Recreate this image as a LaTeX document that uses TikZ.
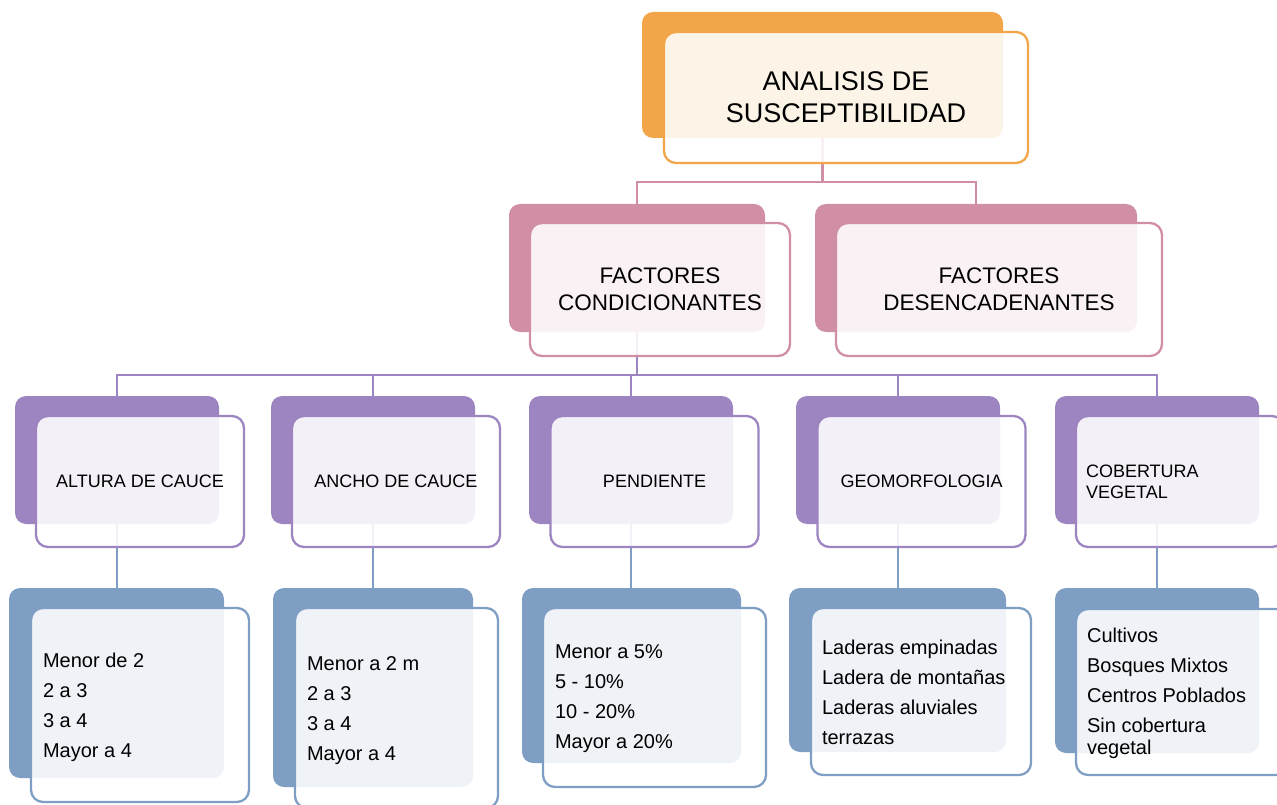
\documentclass[tikz,border=0pt]{standalone}
\usepackage{fontspec}
\setmainfont{Liberation Sans}
\definecolor{cOr}{HTML}{F3A649}
\definecolor{cPk}{HTML}{D18FA5}
\definecolor{cPu}{HTML}{9D85C1}
\definecolor{cBl}{HTML}{7F9EC3}
\begin{document}
\begin{tikzpicture}[x=1pt,y=-1pt,
  bk/.style={fill=#1, draw=none, rounded corners=11pt, inner sep=0pt},
  fr/.style={draw=#1, line width=2.3pt, fill=white, fill opacity=0.88, text opacity=1, rounded corners=12pt, inner sep=0pt},
  conn/.style={draw=#1, line width=2.6pt},
  tA/.style={font=\fontsize{27}{32}\selectfont, align=center},
  tB/.style={font=\fontsize{22.5}{27}\selectfont, align=center},
  tC/.style={font=\fontsize{18}{21}\selectfont, align=center},
  lst/.style={font=\fontsize{20}{22}\selectfont, align=left, anchor=west, inner sep=0pt},
  w3/.style={minimum width=204pt, minimum height=128pt},
  f3/.style={minimum width=208pt, minimum height=131pt}]
\useasboundingbox (0,0) rectangle (1277,805);
% back boxes
\node[bk=cOr, minimum width=361pt, minimum height=126pt] (topb) at (822.5,75) {};
\node[bk=cPk, minimum width=256pt, minimum height=128pt] (fcb) at (637,268) {};
\node[bk=cPk, minimum width=322pt, minimum height=128pt] (fdb) at (976,268) {};
\node[bk=cPu, w3] (l3ab) at (117,460) {};
\node[bk=cPu, w3] (l3bb) at (373,460) {};
\node[bk=cPu, w3] (l3cb) at (631,460) {};
\node[bk=cPu, w3] (l3db) at (898,460) {};
\node[bk=cPu, w3] (l3eb) at (1157,460) {};
\node[bk=cBl, minimum width=215pt, minimum height=190pt] (l4ab) at (116.5,683) {};
\node[bk=cBl, minimum width=200pt, minimum height=199pt] (l4bb) at (373,687.5) {};
\node[bk=cBl, minimum width=219pt, minimum height=175pt] (l4cb) at (631.5,675.5) {};
\node[bk=cBl, minimum width=217pt, minimum height=164pt] (l4db) at (897.5,670) {};
\node[bk=cBl, minimum width=204pt, minimum height=165pt] (l4eb) at (1157,670.5) {};
% connectors
\coordinate (j1) at (822.5,182);
\draw[conn=cPk] (topb.south) -- (j1) -| (fcb.north);
\draw[conn=cPk] (j1) -| (fdb.north);
\coordinate (j2) at (637,375);
\draw[conn=cPu] (fcb.south) -- (j2);
\draw[conn=cPu] (j2) -| (l3ab.north);
\draw[conn=cPu] (j2) -| (l3bb.north);
\draw[conn=cPu] (j2) -| (l3cb.north);
\draw[conn=cPu] (j2) -| (l3db.north);
\draw[conn=cPu] (j2) -| (l3eb.north);
\draw[conn=cBl] (l3ab.south) -- (l3ab.south |- l4ab.north);
\draw[conn=cBl] (l3bb.south) -- (l3bb.south |- l4bb.north);
\draw[conn=cBl] (l3cb.south) -- (l3cb.south |- l4cb.north);
\draw[conn=cBl] (l3db.south) -- (l3db.south |- l4db.north);
\draw[conn=cBl] (l3eb.south) -- (l3eb.south |- l4eb.north);
% front boxes
\node[fr=cOr, tA, minimum width=364pt, minimum height=131pt] (top) at (846,97.5) {ANALISIS DE\\SUSCEPTIBILIDAD};
\node[fr=cPk, tB, minimum width=260pt, minimum height=133pt] (fc) at (660,289.5) {FACTORES\\CONDICIONANTES};
\node[fr=cPk, tB, minimum width=326pt, minimum height=133pt] (fd) at (999,289.5) {FACTORES\\DESENCADENANTES};
\node[fr=cPu, tC, f3] (l3a) at (140,481.5) {ALTURA DE CAUCE};
\node[fr=cPu, tC, f3] (l3b) at (396,481.5) {ANCHO DE CAUCE};
\node[fr=cPu, tC, f3] (l3c) at (654.5,481.5) {PENDIENTE};
\node[fr=cPu, tC, f3] (l3d) at (921.5,481.5) {GEOMORFOLOGIA};
\node[fr=cPu, f3] (l3e) at (1180,481.5) {};
\node[tC, align=left, anchor=west, inner sep=0pt] (l3et) at ([xshift=11pt]l3e.west) {COBERTURA\\VEGETAL};
\node[fr=cBl, minimum width=218pt, minimum height=194pt] (l4a) at (140,705) {};
\node[fr=cBl, minimum width=203pt, minimum height=200pt] (l4b) at (396.5,708) {};
\node[fr=cBl, minimum width=223pt, minimum height=179pt] (l4c) at (654.5,697.5) {};
\node[fr=cBl, minimum width=220pt, minimum height=167pt] (l4d) at (921,691.5) {};
\node[fr=cBl, minimum width=214pt, minimum height=166pt] (l4e) at (1183,692) {};
% list texts
\node[lst] (l4at) at ([xshift=13pt,yshift=-2pt]l4a.west) {Menor de 2\\[8pt]2 a 3\\[8pt]3 a 4\\[8pt]Mayor a 4};
\node[lst] (l4bt) at ([xshift=13pt,yshift=-3pt]l4b.west) {Menor a 2 m\\[8pt]2 a 3\\[8pt]3 a 4\\[8pt]Mayor a 4};
\node[lst] (l4ct) at ([xshift=13pt,yshift=-1pt]l4c.west) {Menor a 5\%\\[8pt]5 - 10\%\\[8pt]10 - 20\%\\[8pt]Mayor a 20\%};
\node[lst] (l4dt) at ([xshift=12pt,yshift=-1pt]l4d.west) {Laderas empinadas\\[8pt]Ladera de montañas\\[8pt]Laderas aluviales\\[8pt]terrazas};
\node[lst] (l4et) at ([xshift=12pt,yshift=-1pt]l4e.west) {Cultivos\\[8pt]Bosques Mixtos\\[8pt]Centros Poblados\\[8pt]Sin cobertura\\vegetal};
\end{tikzpicture}
\end{document}
